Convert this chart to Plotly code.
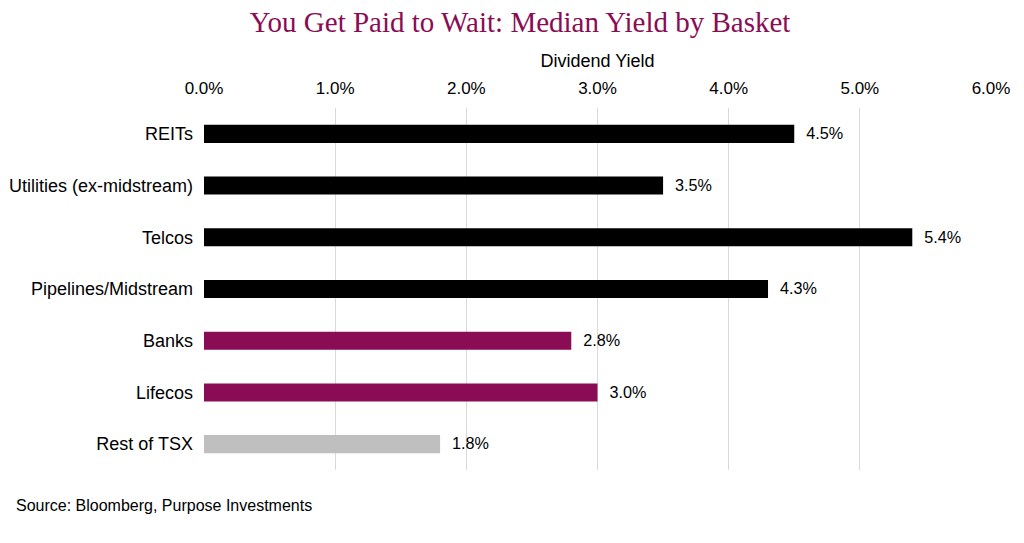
import plotly.graph_objects as go

# categories top to bottom, values in percent
baskets = ["REITs", "Utilities (ex-midstream)", "Telcos", "Pipelines/Midstream",
           "Banks", "Lifecos", "Rest of TSX"]
yields = [4.5, 3.5, 5.4, 4.3, 2.8, 3.0, 1.8]
bar_colors = ["#000000", "#000000", "#000000", "#000000", "#8a0c55", "#8a0c55", "#bfbfbf"]
tick_vals = [0, 1, 2, 3, 4, 5, 6]
tick_text = ["0.0%", "1.0%", "2.0%", "3.0%", "4.0%", "5.0%", "6.0%"]

fig = go.Figure()
fig.add_trace(go.Bar(
    x=yields,
    y=baskets,
    orientation="h",
    marker=dict(color=bar_colors, line=dict(width=0)),
    width=0.35,
    text=["\u00a0\u00a0" + f"{v:.1f}%" for v in yields],
    textposition="outside",
    textfont=dict(family="Liberation Sans, Arial", size=17, color="#000000"),
    cliponaxis=False,
))

fig.update_layout(
    width=1024, height=543,
    plot_bgcolor="white", paper_bgcolor="white",
    margin=dict(l=196, r=41, t=100, b=81),
    showlegend=False,
    title=dict(
        text="You Get Paid to Wait: Median Yield by Basket",
        x=0.5, xanchor="center", y=1.0, yanchor="top",
        pad=dict(t=4),
        font=dict(family="Liberation Serif, Georgia, serif", size=29, color="#8a0c55"),
    ),
    font=dict(family="Liberation Sans, Arial", size=17, color="#000000"),
)

fig.update_xaxes(
    side="top",
    range=[0, 6],
    tickvals=tick_vals,
    ticktext=tick_text,
    tickfont=dict(size=17),
    ticklabelstandoff=10,
    showgrid=True, gridcolor="#d9d9d9", gridwidth=1,
    zeroline=False, showline=False, ticks="",
    title=dict(text="Dividend Yield", font=dict(size=18), standoff=6),
    automargin=False,
)
fig.update_yaxes(
    categoryorder="array",
    categoryarray=baskets,
    autorange="reversed",
    showgrid=False, zeroline=False, showline=False,
    ticks="", ticklabelstandoff=10,
    tickfont=dict(size=18),
    automargin=False,
)

fig.add_annotation(
    text="Source: Bloomberg, Purpose Investments",
    xref="paper", yref="paper", x=-0.2414, y=-0.0994,
    xanchor="left", yanchor="middle", showarrow=False,
    font=dict(family="Liberation Sans, Arial", size=16, color="#000000"),
)

fig.write_html("out.html")
